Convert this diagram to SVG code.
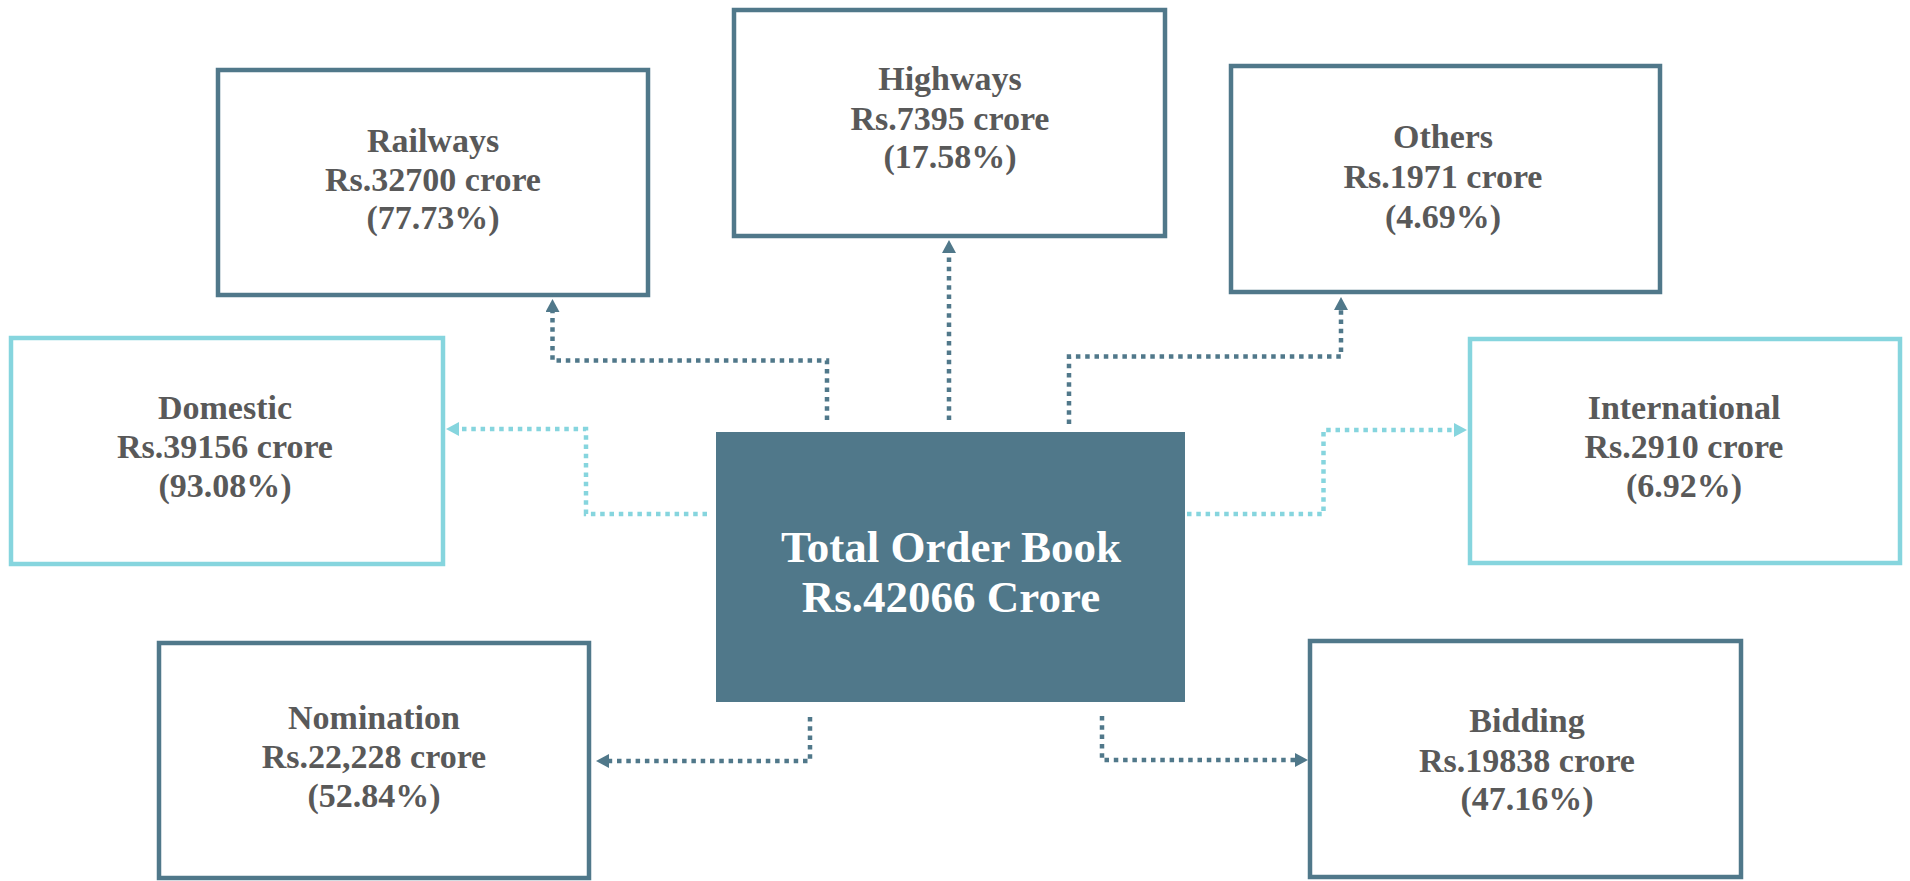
<svg xmlns="http://www.w3.org/2000/svg" width="1910" height="881" viewBox="0 0 1910 881">
  <style>
    .box { fill: #ffffff; stroke: #50788A; stroke-width: 4.5; }
    .boxc { fill: #ffffff; stroke: #86D5DE; stroke-width: 4.5; }
    .lbl { font-family: "Liberation Serif", "Times New Roman", serif; font-weight: bold; font-size: 34px; fill: #595959; text-anchor: middle; }
    .main { font-family: "Liberation Serif", "Times New Roman", serif; font-weight: bold; font-size: 45px; fill: #ffffff; text-anchor: middle; }
    .cd { fill: none; stroke: #50788A; stroke-width: 4.5; stroke-dasharray: 4.5 4.8; }
    .cc { fill: none; stroke: #86D5DE; stroke-width: 4.5; stroke-dasharray: 4.5 4.8; }
  </style>
  <defs>
    <marker id="ad" viewBox="0 0 13 14" refX="0" refY="7" markerWidth="13" markerHeight="14" markerUnits="userSpaceOnUse" orient="auto">
      <path d="M0,0 L13,7 L0,14 Z" fill="#50788A"/>
    </marker>
    <marker id="ac" viewBox="0 0 13 14" refX="0" refY="7" markerWidth="13" markerHeight="14" markerUnits="userSpaceOnUse" orient="auto">
      <path d="M0,0 L13,7 L0,14 Z" fill="#86D5DE"/>
    </marker>
  </defs>
  <rect width="1910" height="881" fill="#ffffff"/>

  <g id="connectors">
    <path class="cd" d="M827 420 V360.5 H552.5 V312" marker-end="url(#ad)"/>
    <path class="cd" d="M949 420 V253" marker-end="url(#ad)"/>
    <path class="cd" d="M1069 424 V356.5 H1341 V310" marker-end="url(#ad)"/>
    <path class="cc" d="M707 514 H586 V429 H459" marker-end="url(#ac)"/>
    <path class="cc" d="M1187 514 H1323.5 V430 H1454" marker-end="url(#ac)"/>
    <path class="cd" d="M810 717 V761 H609" marker-end="url(#ad)"/>
    <path class="cd" d="M1102 716 V760 H1295" marker-end="url(#ad)"/>
  </g>

  <g id="total">
    <rect x="716" y="432" width="469" height="270" fill="#50788A"/>
    <text class="main" x="951" y="562">Total Order Book</text>
    <text class="main" x="951" y="612">Rs.42066 Crore</text>
  </g>

  <g id="railways">
    <rect class="box" x="218" y="70" width="430" height="225"/>
    <text class="lbl" x="433" y="152">Railways</text>
    <text class="lbl" x="433" y="191">Rs.32700 crore</text>
    <text class="lbl" x="433" y="229">(77.73%)</text>
  </g>

  <g id="highways">
    <rect class="box" x="734" y="10" width="431" height="226"/>
    <text class="lbl" x="950" y="90">Highways</text>
    <text class="lbl" x="950" y="130">Rs.7395 crore</text>
    <text class="lbl" x="950" y="168">(17.58%)</text>
  </g>

  <g id="others">
    <rect class="box" x="1231" y="66" width="429" height="226"/>
    <text class="lbl" x="1443" y="148">Others</text>
    <text class="lbl" x="1443" y="188">Rs.1971 crore</text>
    <text class="lbl" x="1443" y="228">(4.69%)</text>
  </g>

  <g id="domestic">
    <rect class="boxc" x="11" y="338" width="432" height="226"/>
    <text class="lbl" x="225" y="419">Domestic</text>
    <text class="lbl" x="225" y="458">Rs.39156 crore</text>
    <text class="lbl" x="225" y="497">(93.08%)</text>
  </g>

  <g id="international">
    <rect class="boxc" x="1470" y="339" width="430" height="224"/>
    <text class="lbl" x="1684" y="419">International</text>
    <text class="lbl" x="1684" y="458">Rs.2910 crore</text>
    <text class="lbl" x="1684" y="497">(6.92%)</text>
  </g>

  <g id="nomination">
    <rect class="box" x="159" y="643" width="430" height="235"/>
    <text class="lbl" x="374" y="729">Nomination</text>
    <text class="lbl" x="374" y="768">Rs.22,228 crore</text>
    <text class="lbl" x="374" y="807">(52.84%)</text>
  </g>

  <g id="bidding">
    <rect class="box" x="1310" y="641" width="431" height="236"/>
    <text class="lbl" x="1527" y="732">Bidding</text>
    <text class="lbl" x="1527" y="772">Rs.19838 crore</text>
    <text class="lbl" x="1527" y="810">(47.16%)</text>
  </g>
</svg>
